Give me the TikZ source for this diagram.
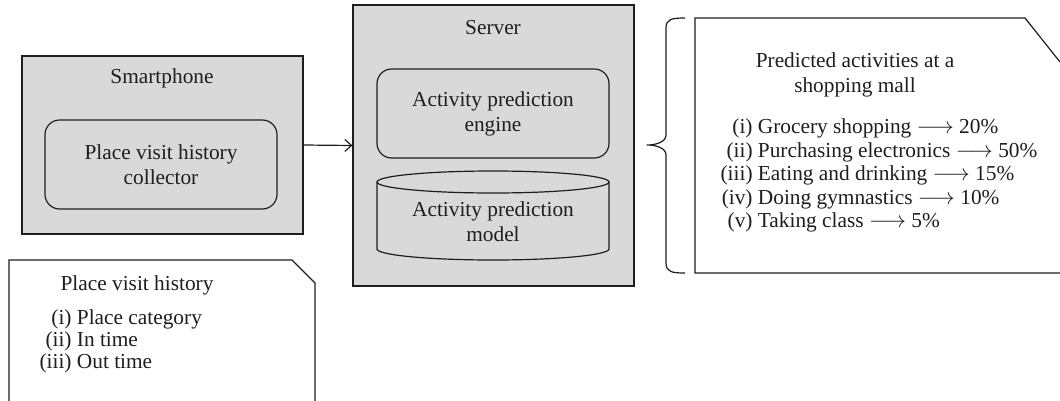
\documentclass[tikz,border=0pt]{standalone}
\usepackage{fontspec}
\setmainfont{Liberation Serif}
\usetikzlibrary{arrows.meta}
\definecolor{boxgray}{HTML}{D9D9D9}
\definecolor{ink}{HTML}{1E1E1E}
\begin{document}
\begin{tikzpicture}[x=0.75pt,y=-0.75pt,
  line width=0.9pt, draw=ink,
  every node/.style={font=\fontsize{16}{18.75}\selectfont, text=ink},
  outerbox/.style={draw=ink, fill=boxgray, minimum width=210.75pt, inner sep=0pt},
  innerbox/.style={draw=ink, fill=boxgray, rounded corners=11pt,
    minimum width=174pt, minimum height=66.75pt, align=center, inner sep=0pt},
  plain/.style={align=center, inner sep=0pt},
  listtext/.style={font=\fontsize{16}{17.6}\selectfont, inner sep=0pt},
  callout/.style={draw=ink, line width=0.9pt, line join=miter},
  flow/.style={draw=ink, -{Straight Barb[length=5pt,width=9pt]}}
]
\useasboundingbox (0,0) rectangle (1060,400);

% client side
\node[outerbox, minimum height=133.5pt] (phone) at (162.5,145) {};
\node[plain] (phonetitle) at (162,78) {Smartphone};
\node[innerbox] (collector) at (161,164.5) {Place visit history\\collector};

% server side
\node[outerbox, minimum height=210.75pt] (server) at (493.5,145.5) {};
\node[plain] (servertitle) at (493,28) {Server};
\node[innerbox] (engine) at (493,113.5) {Activity prediction\\engine};

% database cylinder
\coordinate (cylTL) at (377,182);
\coordinate (cylTR) at (609,182);
\coordinate (cylBL) at (377,249);
\coordinate (cylBR) at (609,249);
\filldraw[draw=ink, fill=boxgray] (cylTL) -- (cylBL) arc[start angle=180, end angle=360, x radius=116, y radius=-11] -- (cylTR) arc[start angle=0, end angle=180, x radius=116, y radius=-11] -- cycle;
\draw[ink] (cylTL) arc[start angle=180, end angle=360, x radius=116, y radius=-11];
\node[plain] (model) at (493,222) {Activity prediction\\model};

% upload of the visit history
\draw[flow] (phone.east) -- (server.west);

% output brace and result panel
\coordinate (braceTop) at (685,18);
\coordinate (braceTip) at (647,145);
\coordinate (braceBot) at (685,273);
\draw[ink, line join=round]
  (braceTop) .. controls (672,18) and (666,19) .. (666,28)
  -- (666,135) .. controls (666,142) and (656,145) .. (braceTip)
  .. controls (656,145) and (666,148) .. (666,155)
  -- (666,263) .. controls (666,272) and (672,273) .. (braceBot);
\draw[callout] (1060,62) -- (1025,18) -- (695,18) -- (695,273) -- (1060,273);
\node[plain] (predtitle) at (855,75) {Predicted activities at a\\shopping mall};
\node[listtext, anchor=west] (predlist) at (720,176) {%
  \begin{tabular}{@{}r@{\ }l@{}}
  (i) & Grocery shopping $\longrightarrow$ 20\%\\
  (ii) & Purchasing electronics $\longrightarrow$ 50\%\\
  (iii) & Eating and drinking $\longrightarrow$ 15\%\\
  (iv) & Doing gymnastics $\longrightarrow$ 10\%\\
  (v) & Taking class $\longrightarrow$ 5\%
  \end{tabular}};

% place visit history note
\draw[callout] (9,402) -- (9,260) -- (292,260) -- (315,283) -- (315,402);
\node[plain] (histtitle) at (137,285) {Place visit history};
\node[listtext, anchor=west] (histlist) at (39,342) {%
  \begin{tabular}{@{}r@{\ }l@{}}
  (i) & Place category\\[-1pt]
  (ii) & In time\\[-1pt]
  (iii) & Out time
  \end{tabular}};
\end{tikzpicture}
\end{document}
